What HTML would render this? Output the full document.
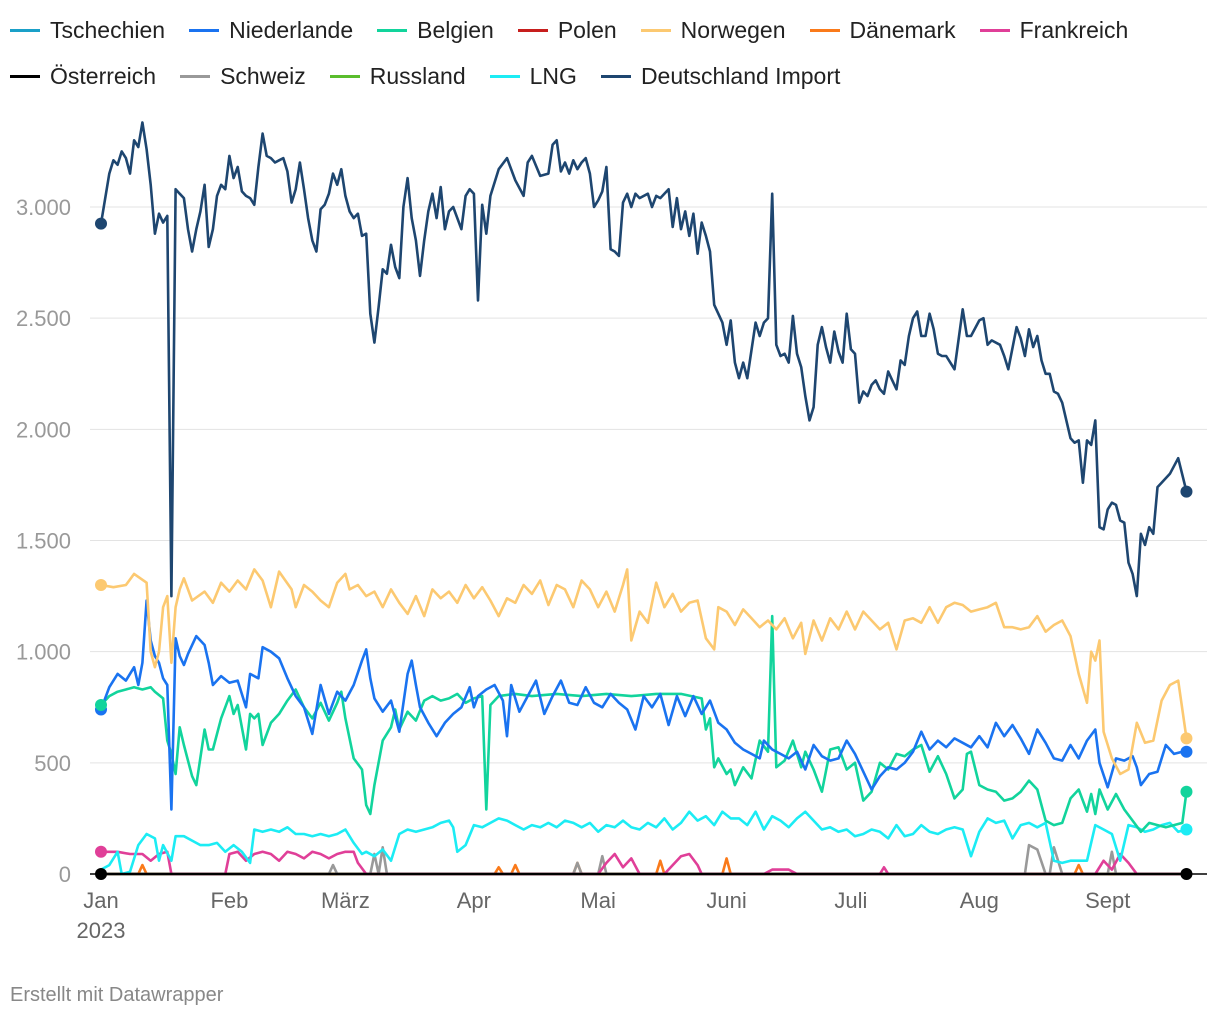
<!DOCTYPE html>
<html><head><meta charset="utf-8"><style>
body{margin:0;background:#fff;font-family:"Liberation Sans",sans-serif;}
#wrap{position:relative;width:1220px;height:1020px;overflow:hidden;}
.legend{position:absolute;left:10px;font-size:23px;color:#222;display:flex;}
.li{display:flex;align-items:center;margin-right:24px;white-space:nowrap}
.sw{width:30px;height:3px;margin-right:10px;}
#foot{position:absolute;left:10px;top:984px;font-size:20px;color:#888;}
</style></head><body><div id="wrap">
<div class="legend" style="top:17px" id="lg1"></div>
<div class="legend" style="top:63px" id="lg2"></div>
<svg id="svg" width="1220" height="1020" style="position:absolute;left:0;top:0"></svg>
<div id="foot">Erstellt mit Datawrapper</div>
</div>
<script>
const yTicks=[0,500,1000,1500,2000,2500,3000];
const yTickLabels=["0","500","1.000","1.500","2.000","2.500","3.000"];
const monthDays=[0,31,59,90,120,151,181,212,243];
const monthLabels=["Jan","Feb","März","Apr","Mai","Juni","Juli","Aug","Sept"];
const seriesNames=["Tschechien","Niederlande","Belgien","Polen","Norwegen","Dänemark","Frankreich","Österreich","Schweiz","Russland","LNG","Deutschland Import"];
const seriesColors=["#1aa0c8","#1a73f0","#12d49c","#c71e1d","#fcc971","#fa7a1a","#e03f98","#000000","#999999","#5abd2d","#1cecf4","#1e4670"];
const zero=[[0,0],[262,0]];
const deutschland=[[0,2925],[2,3150],[3,3210],[4,3190],[5,3250],[6,3220],[7,3150],[8,3300],[9,3270],[10,3380],[11,3260],[12,3100],[13,2880],[14,2970],[15,2930],[16,2960],[17,1250],[18,3080],[19,3060],[20,3040],[21,2900],[22,2800],[23,2900],[24,2980],[25,3100],[26,2820],[27,2900],[28,3050],[29,3100],[30,3080],[31,3230],[32,3130],[33,3180],[34,3070],[35,3050],[36,3040],[37,3010],[38,3180],[39,3330],[40,3230],[41,3220],[42,3200],[43,3210],[44,3220],[45,3160],[46,3020],[47,3080],[48,3200],[49,3080],[50,2950],[51,2850],[52,2800],[53,2990],[54,3010],[55,3060],[56,3150],[57,3100],[58,3170],[59,3050],[60,2980],[61,2950],[62,2970],[63,2870],[64,2880],[65,2520],[66,2390],[67,2550],[68,2720],[69,2700],[70,2830],[71,2730],[72,2680],[73,3000],[74,3130],[75,2950],[76,2850],[77,2690],[78,2850],[79,2980],[80,3060],[81,2950],[82,3090],[83,2900],[84,2980],[85,3000],[86,2950],[87,2900],[88,3050],[89,3080],[90,3060],[91,2580],[92,3010],[93,2880],[94,3050],[96,3170],[98,3220],[100,3120],[102,3050],[103,3200],[104,3230],[106,3140],[108,3150],[109,3280],[110,3300],[111,3160],[112,3200],[113,3150],[114,3210],[115,3170],[116,3200],[117,3220],[118,3150],[119,3000],[120,3030],[121,3070],[122,3180],[123,2810],[124,2800],[125,2780],[126,3020],[127,3060],[128,3000],[129,3060],[130,3040],[132,3060],[133,3000],[134,3050],[135,3040],[137,3080],[138,2910],[139,3040],[140,2900],[141,2980],[142,2870],[143,2970],[144,2790],[145,2930],[146,2870],[147,2800],[148,2560],[149,2520],[150,2480],[151,2380],[152,2490],[153,2300],[154,2230],[155,2300],[156,2230],[158,2480],[159,2420],[160,2480],[161,2500],[162,3060],[163,2380],[164,2330],[165,2340],[166,2300],[167,2510],[168,2340],[169,2280],[170,2150],[171,2040],[172,2100],[173,2380],[174,2460],[175,2370],[176,2300],[177,2440],[178,2350],[179,2300],[180,2520],[181,2360],[182,2340],[183,2120],[184,2170],[185,2150],[186,2200],[187,2220],[188,2180],[189,2160],[190,2260],[191,2220],[192,2180],[193,2310],[194,2290],[195,2420],[196,2500],[197,2530],[198,2420],[199,2420],[200,2520],[201,2450],[202,2340],[203,2330],[204,2330],[205,2300],[206,2270],[208,2540],[209,2420],[210,2420],[212,2490],[213,2500],[214,2380],[215,2400],[217,2380],[218,2330],[219,2270],[221,2460],[222,2410],[223,2330],[224,2450],[225,2370],[226,2420],[227,2310],[228,2250],[229,2250],[230,2170],[231,2160],[232,2120],[234,1960],[235,1940],[236,1950],[237,1760],[238,1950],[239,1930],[240,2040],[241,1560],[242,1550],[243,1640],[244,1670],[245,1660],[246,1590],[247,1580],[248,1400],[249,1350],[250,1250],[251,1530],[252,1480],[253,1560],[254,1530],[255,1740],[256,1760],[258,1800],[260,1870],[262,1720]];
const norwegen=[[0,1300],[3,1290],[6,1300],[8,1350],[11,1310],[12,1000],[13,930],[14,1000],[15,1200],[16,1250],[17,950],[18,1200],[19,1280],[20,1330],[22,1230],[25,1270],[27,1220],[29,1310],[31,1270],[33,1320],[35,1280],[37,1370],[39,1320],[41,1200],[43,1360],[46,1280],[47,1200],[49,1300],[51,1270],[53,1230],[55,1200],[57,1310],[59,1350],[60,1280],[62,1300],[64,1250],[66,1270],[68,1200],[70,1280],[72,1220],[74,1170],[76,1250],[78,1160],[80,1280],[82,1240],[84,1270],[86,1220],[88,1300],[90,1240],[92,1290],[94,1230],[96,1160],[98,1240],[100,1220],[102,1300],[104,1260],[106,1320],[108,1210],[110,1300],[112,1280],[114,1200],[116,1320],[118,1280],[120,1200],[122,1270],[124,1180],[126,1300],[127,1370],[128,1050],[130,1180],[132,1130],[134,1310],[136,1200],[138,1260],[140,1180],[142,1220],[144,1230],[146,1060],[148,1010],[149,1200],[151,1180],[153,1120],[155,1190],[157,1150],[159,1110],[161,1140],[163,1100],[165,1150],[167,1060],[169,1130],[170,990],[172,1140],[174,1050],[176,1150],[178,1100],[180,1180],[182,1100],[184,1180],[186,1140],[188,1100],[190,1130],[192,1010],[194,1140],[196,1150],[198,1130],[200,1200],[202,1130],[204,1200],[206,1220],[208,1210],[210,1180],[212,1190],[214,1200],[216,1220],[218,1110],[220,1110],[222,1100],[224,1110],[226,1160],[228,1090],[230,1120],[232,1140],[234,1070],[236,900],[238,770],[239,1000],[240,960],[241,1050],[242,640],[244,520],[246,450],[248,470],[250,680],[252,590],[254,600],[256,780],[258,850],[260,870],[262,610]];
const niederlande=[[0,740],[2,840],[4,900],[6,870],[8,930],[9,850],[10,950],[11,1230],[12,1050],[13,980],[14,950],[15,880],[16,850],[17,290],[18,1060],[19,980],[20,940],[21,990],[23,1070],[25,1030],[26,950],[27,850],[29,890],[31,860],[33,870],[35,750],[36,900],[38,880],[39,1020],[41,1000],[43,970],[45,880],[47,800],[49,750],[51,630],[53,850],[55,720],[57,820],[59,780],[61,850],[63,960],[64,1010],[65,880],[66,790],[68,730],[70,780],[72,640],[74,900],[75,960],[76,850],[77,750],[79,680],[81,620],[83,680],[85,720],[87,750],[89,840],[90,750],[91,800],[93,830],[95,850],[97,780],[98,620],[99,850],[101,730],[103,800],[105,870],[107,720],[109,800],[111,870],[113,770],[115,760],[117,840],[119,770],[121,750],[123,810],[125,770],[127,740],[129,650],[131,800],[133,750],[135,810],[137,670],[139,800],[141,710],[143,800],[145,720],[147,780],[149,680],[151,650],[153,590],[155,560],[157,540],[159,520],[160,600],[162,560],[164,540],[166,520],[168,550],[170,470],[172,580],[174,530],[176,510],[178,520],[180,600],[182,540],[184,460],[186,380],[188,440],[190,480],[192,470],[194,500],[196,550],[198,640],[200,560],[202,600],[204,570],[206,610],[208,590],[210,570],[212,620],[214,570],[216,680],[218,620],[220,670],[222,610],[224,540],[226,650],[228,590],[230,520],[232,510],[234,580],[236,520],[238,600],[240,650],[241,500],[243,390],[245,520],[247,510],[249,530],[250,480],[251,400],[253,450],[255,460],[257,580],[259,540],[261,550],[262,550]];
const belgien=[[0,760],[2,800],[4,820],[6,830],[8,840],[10,830],[12,840],[13,820],[15,790],[16,600],[17,540],[18,450],[19,660],[20,580],[22,440],[23,400],[25,650],[26,560],[27,560],[29,700],[31,800],[32,720],[33,760],[35,560],[36,720],[37,700],[38,720],[39,580],[41,680],[43,720],[45,780],[47,830],[49,750],[51,700],[53,770],[55,690],[57,770],[58,820],[59,700],[61,520],[63,470],[64,310],[65,270],[66,400],[68,600],[70,660],[71,740],[72,650],[74,730],[76,690],[78,780],[80,800],[82,780],[84,790],[86,810],[88,770],[90,790],[92,800],[93,290],[94,760],[96,800],[100,810],[104,800],[110,810],[116,800],[122,810],[128,800],[134,810],[140,810],[145,790],[146,650],[147,700],[148,480],[149,520],[151,450],[152,470],[153,400],[155,480],[157,430],[159,600],[161,550],[162,1160],[163,480],[165,510],[167,600],[169,480],[170,550],[172,470],[174,370],[176,560],[178,570],[180,470],[182,500],[184,330],[186,370],[188,500],[190,470],[192,540],[194,530],[196,560],[198,580],[200,460],[202,530],[204,450],[206,340],[208,380],[209,540],[210,550],[212,400],[214,380],[216,370],[218,330],[220,340],[222,370],[224,420],[226,380],[228,240],[230,220],[232,230],[234,340],[236,380],[238,280],[239,360],[240,270],[241,380],[243,290],[245,360],[247,290],[249,240],[251,190],[253,230],[255,220],[257,210],[259,220],[261,230],[262,370]];
const lng=[[0,20],[2,40],[4,100],[5,0],[7,10],[9,130],[11,180],[13,160],[14,60],[15,130],[17,60],[18,170],[20,170],[22,150],[24,130],[26,130],[28,140],[30,100],[32,130],[34,100],[36,50],[37,200],[39,190],[41,200],[43,190],[45,210],[47,180],[49,180],[51,170],[53,180],[55,170],[57,180],[59,200],[61,140],[63,90],[64,100],[66,80],[68,110],[70,60],[72,180],[74,200],[76,190],[78,200],[80,210],[82,230],[84,240],[85,210],[86,100],[88,130],[90,220],[92,210],[94,230],[96,250],[98,240],[100,220],[102,200],[104,220],[106,210],[108,230],[110,210],[112,240],[114,230],[116,210],[118,230],[120,190],[122,220],[124,210],[126,240],[128,210],[130,200],[132,230],[134,210],[136,250],[138,200],[140,230],[142,280],[144,240],[146,260],[148,220],[150,280],[152,250],[154,250],[156,220],[158,280],[160,200],[162,260],[164,240],[166,210],[168,250],[170,280],[172,240],[174,200],[176,210],[178,190],[180,200],[182,170],[184,180],[186,200],[188,190],[190,160],[192,220],[194,170],[196,180],[198,220],[200,190],[202,180],[204,200],[206,210],[208,200],[210,80],[212,190],[214,250],[216,230],[218,240],[220,160],[222,220],[224,230],[226,210],[228,230],[230,60],[232,50],[234,60],[236,60],[238,60],[240,220],[242,200],[244,180],[246,60],[248,220],[250,210],[252,190],[254,200],[256,220],[258,230],[260,190],[262,200]];
const frankreich=[[0,100],[4,100],[7,90],[10,90],[12,60],[14,90],[16,100],[17,0],[30,0],[31,90],[33,100],[35,60],[37,90],[39,100],[41,90],[43,60],[45,100],[47,90],[49,70],[51,100],[53,90],[55,70],[57,90],[59,100],[61,100],[62,50],[64,0],[120,0],[122,50],[124,90],[126,30],[128,70],[130,0],[136,0],[138,40],[140,80],[142,90],[144,40],[145,0],[160,0],[162,20],[166,20],[168,0],[188,0],[189,30],[190,0],[240,0],[242,60],[244,20],[246,90],[248,50],[250,0],[262,0]];
const schweiz=[[0,0],[55,0],[56,40],[57,0],[65,0],[66,90],[67,0],[68,120],[69,0],[114,0],[115,50],[116,0],[120,0],[121,80],[122,0],[223,0],[224,130],[226,110],[228,0],[229,0],[230,120],[232,0],[243,0],[244,100],[245,0],[262,0]];
const daenemark=[[0,0],[9,0],[10,40],[11,0],[95,0],[96,30],[97,0],[99,0],[100,40],[101,0],[114,0],[115,50],[116,0],[134,0],[135,60],[136,0],[150,0],[151,70],[152,0],[235,0],[236,40],[237,0],[262,0]];
const seriesData=[zero,niederlande,belgien,zero,norwegen,daenemark,frankreich,zero,schweiz,zero,lng,deutschland];
const drawOrder=[0,3,9,5,8,6,10,2,1,4,7,11];

const X0=101,PX_DAY=4.143,Y0=874,PX_UNIT=667/3000;
const xs=d=>X0+d*PX_DAY, ys=v=>Y0-v*PX_UNIT;
const NS="http://www.w3.org/2000/svg",svg=document.getElementById('svg');
function mk(t,a){const e=document.createElementNS(NS,t);for(const k in a)e.setAttribute(k,a[k]);svg.appendChild(e);return e;}
yTicks.forEach((t,i)=>{
  if(t>0){const g=mk('line',{x1:90,x2:1207,y1:ys(t),y2:ys(t),stroke:'#e3e3e3','stroke-width':1});
  
  }
  const l=mk('text',{x:71,y:ys(t)+8,'text-anchor':'end','font-size':22,fill:'#999'});l.textContent=yTickLabels[i];
  
  
});
monthDays.forEach((d,i)=>{
  const l=mk('text',{x:xs(d),y:908,'text-anchor':'middle','font-size':22,fill:'#666'});l.textContent=monthLabels[i];
  
  
});
const yr=mk('text',{x:xs(0),y:938,'text-anchor':'middle','font-size':22,fill:'#666'});yr.textContent='2023';


drawOrder.forEach(i=>{
  const pts=seriesData[i].map(p=>xs(p[0]).toFixed(1)+','+ys(p[1]).toFixed(1)).join(' ');
  const pl=mk('polyline',{points:pts,fill:'none',stroke:seriesColors[i],'stroke-width':2.6,'stroke-linejoin':'round'});
  
  
});
const base=mk('line',{x1:90,x2:1207,y1:Y0,y2:Y0,stroke:'#000','stroke-width':1.5});


const startDots=[11,4,1,2,6,7], endDots=[11,4,1,2,10,7];
startDots.forEach(i=>{const d=seriesData[i][0];const c=mk('circle',{cx:xs(d[0]),cy:ys(d[1]),r:6,fill:seriesColors[i]});
  
  });
endDots.forEach(i=>{const s=seriesData[i],d=s[s.length-1];const c=mk('circle',{cx:xs(d[0]),cy:ys(d[1]),r:6,fill:seriesColors[i]});
  
  });
seriesNames.forEach((n,i)=>{
  const row=document.getElementById(i<7?'lg1':'lg2');
  const it=document.createElement('div');it.className='li';
  
  
  it.innerHTML='<span class="sw" style="background:'+seriesColors[i]+'"></span>'+n;
  row.appendChild(it);
});
</script></body></html>
